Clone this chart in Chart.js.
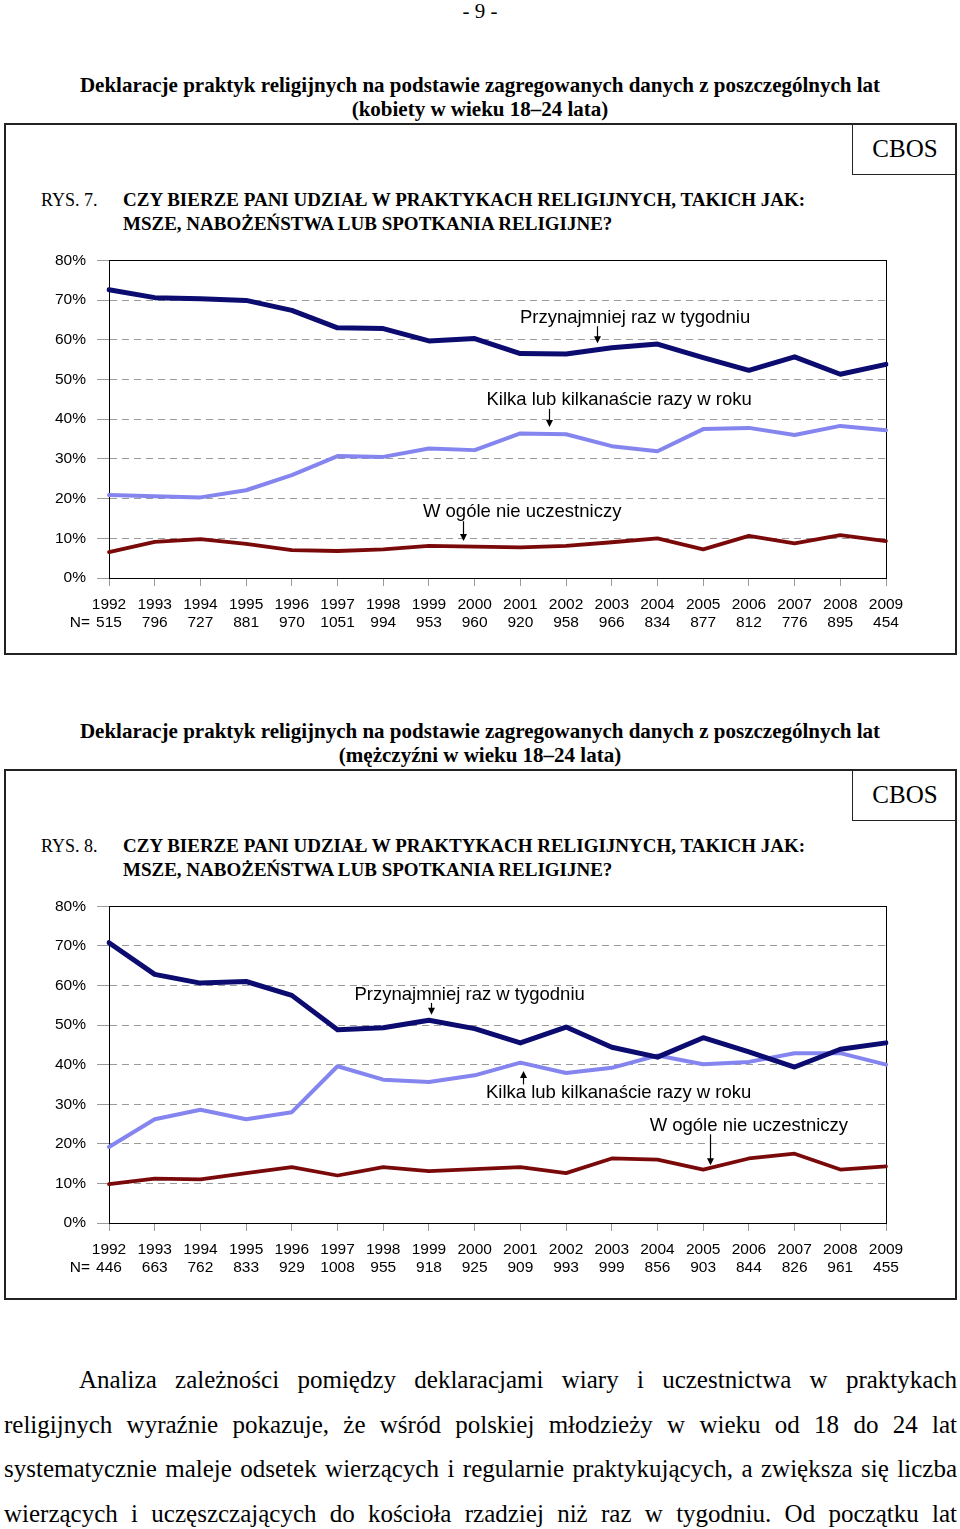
<!DOCTYPE html>
<html lang="pl">
<head>
<meta charset="utf-8">
<title>Deklaracje praktyk religijnych</title>
<script src="https://cdn.jsdelivr.net/npm/chart.js@4.4.1/dist/chart.umd.min.js"></script>
<style>
    html, body {
        margin: 0;
        padding: 0;
        background: #fff;
    }
    body {
        position: relative;
        width: 960px;
        height: 1529px;
        overflow: hidden;
        font-family: "Liberation Serif", "Times New Roman", serif;
        color: #000;
    }
    .abs {
        position: absolute;
    }
    .page-no {
        left: 0;
        top: 0;
        width: 960px;
        text-align: center;
        font-size: 21px;
        line-height: 22px;
    }
    .title {
        left: 0;
        width: 960px;
        text-align: center;
        font-weight: bold;
        font-size: 21px;
        line-height: 24px;
    }
    .box {
        left: 4px;
        width: 953px;
        border: 2px solid #222;
        box-sizing: border-box;
    }
    .cbos {
        left: 852px;
        width: 105px;
        height: 52px;
        border-left: 1.5px solid #222;
        border-bottom: 1.5px solid #222;
        box-sizing: border-box;
        text-align: center;
        font-size: 25px;
        line-height: 52px;
    }
    .rys {
        left: 41px;
        font-size: 18px;
        line-height: 24px;
    }
    .question {
        left: 123px;
        font-size: 19px;
        font-weight: bold;
        line-height: 24px;
        white-space: nowrap;
    }
    .para {
        left: 4px;
        top: 1358px;
        width: 953px;
        font-size: 25px;
        line-height: 44.5px;
    }
    .para span {
        display: block;
        text-align: justify;
        text-align-last: justify;
        white-space: nowrap;
    }
    .para span.first {
        padding-left: 75px;
    }
    canvas {
        position: absolute;
        left: 0;
    }
</style>
</head>
<body>

<div class="abs page-no">- 9 -</div>

<div class="abs title" style="top: 73px">Deklaracje praktyk religijnych na podstawie zagregowanych danych z poszczególnych lat<br>(kobiety w wieku 18–24 lata)</div>
<div class="abs box" style="top: 123px; height: 532px"></div>
<div class="abs cbos" style="top: 123px">CBOS</div>
<div class="abs rys" style="top: 188px">RYS. 7.</div>
<div class="abs question" style="top: 188px">CZY BIERZE PANI UDZIAŁ W PRAKTYKACH RELIGIJNYCH, TAKICH JAK:<br>MSZE, NABOŻEŃSTWA LUB SPOTKANIA RELIGIJNE?</div>
<canvas id="chart-women" width="960" height="410" style="top: 240px"></canvas>

<div class="abs title" style="top: 719px">Deklaracje praktyk religijnych na podstawie zagregowanych danych z poszczególnych lat<br>(mężczyźni w wieku 18–24 lata)</div>
<div class="abs box" style="top: 769px; height: 531px"></div>
<div class="abs cbos" style="top: 769px">CBOS</div>
<div class="abs rys" style="top: 834px">RYS. 8.</div>
<div class="abs question" style="top: 834px">CZY BIERZE PANI UDZIAŁ W PRAKTYKACH RELIGIJNYCH, TAKICH JAK:<br>MSZE, NABOŻEŃSTWA LUB SPOTKANIA RELIGIJNE?</div>
<canvas id="chart-men" width="960" height="410" style="top: 886px"></canvas>

<div class="abs para">
    <span class="first">Analiza zależności pomiędzy deklaracjami wiary i uczestnictwa w praktykach</span>
    <span>religijnych wyraźnie pokazuje, że wśród polskiej młodzieży w wieku od 18 do 24 lat</span>
    <span>systematycznie maleje odsetek wierzących i regularnie praktykujących, a zwiększa się liczba</span>
    <span>wierzących i uczęszczających do kościoła rzadziej niż raz w tygodniu. Od początku lat</span>
</div>

<script>
    // dane
    const years = ['1992', '1993', '1994', '1995', '1996', '1997', '1998', '1999', '2000',
        '2001', '2002', '2003', '2004', '2005', '2006', '2007', '2008', '2009']

    const nWomen = ['515', '796', '727', '881', '970', '1051', '994', '953', '960',
        '920', '958', '966', '834', '877', '812', '776', '895', '454']
    const nMen = ['446', '663', '762', '833', '929', '1008', '955', '918', '925',
        '909', '993', '999', '856', '903', '844', '826', '961', '455']

    const yTicks = [0, 10, 20, 30, 40, 50, 60, 70, 80]

    const womenWeekly = [72.6, 70.6, 70.3, 69.9, 67.4, 63.0, 62.8, 59.7, 60.3, 56.5, 56.4, 58.0, 58.9, 55.5, 52.3, 55.7, 51.3, 53.8]
    const womenFewTimes = [20.9, 20.6, 20.3, 22.1, 25.9, 30.7, 30.5, 32.6, 32.2, 36.4, 36.2, 33.2, 31.9, 37.5, 37.8, 36.0, 38.3, 37.2]
    const womenNever = [6.5, 9.1, 9.8, 8.6, 7.0, 6.8, 7.2, 8.1, 7.9, 7.7, 8.1, 9.0, 10.0, 7.2, 10.6, 8.7, 10.8, 9.3]

    const menWeekly = [70.8, 62.8, 60.6, 61.0, 57.5, 48.8, 49.3, 51.2, 49.1, 45.5, 49.5, 44.4, 41.9, 46.8, 43.2, 39.4, 43.9, 45.5]
    const menFewTimes = [19.2, 26.2, 28.6, 26.2, 28.0, 39.6, 36.2, 35.6, 37.3, 40.5, 37.9, 39.2, 42.3, 40.1, 40.7, 42.9, 42.9, 40.0]
    const menNever = [9.8, 11.2, 11.0, 12.6, 14.1, 12.0, 14.1, 13.1, 13.6, 14.1, 12.6, 16.3, 16.0, 13.5, 16.3, 17.5, 13.5, 14.3]

    const seriesNames = ['Przynajmniej raz w tygodniu', 'Kilka lub kilkanaście razy w roku', 'W ogóle nie uczestniczy']

    /****************************************************************************************************/

    Chart.defaults.font.family = '"Liberation Sans", Arial, sans-serif'
    Chart.defaults.font.size = 15.5
    Chart.defaults.color = '#000'

    // ramka, podpisy serii ze strzalkami i "N="
    const notes = {
        id: 'notes',
        beforeDatasetsDraw(chart) {
            let ctx = chart.ctx
            let a = chart.chartArea
            ctx.save()
            ctx.strokeStyle = '#000'
            ctx.lineWidth = 1
            ctx.strokeRect(Math.round(a.left) + 0.5, Math.round(a.top) + 0.5,
                Math.round(a.right - a.left), Math.round(a.bottom - a.top))
            ctx.restore()
        },
        afterDraw(chart, args, opts) {
            let ctx = chart.ctx
            let xs = chart.scales.x
            let ys = chart.scales.y
            ctx.save()
            ctx.fillStyle = '#000'
            ctx.strokeStyle = '#000'
            ctx.lineWidth = 1.2
            ctx.font = '18.5px "Liberation Sans", Arial, sans-serif'
            ctx.textAlign = 'center'
            ctx.textBaseline = 'middle'
            opts.items.forEach(n => {
                ctx.fillText(n.text, xs.getPixelForValue(n.x), ys.getPixelForValue(n.y))
                let ax = Math.round(xs.getPixelForValue(n.ax)) + 0.5
                let y1 = ys.getPixelForValue(n.y1)
                let y2 = ys.getPixelForValue(n.y2)
                let dir = y2 > y1 ? 1 : -1
                ctx.beginPath()
                ctx.moveTo(ax, y1)
                ctx.lineTo(ax, y2 - dir * 5)
                ctx.stroke()
                ctx.beginPath()
                ctx.moveTo(ax, y2)
                ctx.lineTo(ax - 3.5, y2 - dir * 7)
                ctx.lineTo(ax + 3.5, y2 - dir * 7)
                ctx.closePath()
                ctx.fill()
            })
            ctx.font = '15.5px "Liberation Sans", Arial, sans-serif'
            ctx.textAlign = 'right'
            ctx.fillText('N=', xs.getPixelForTick(0) - 19, chart.chartArea.bottom + 45)
            ctx.restore()
        }
    }

    function makeChart(id, nList, weekly, fewTimes, never, plotHeight, items) {
        let el = document.getElementById(id)

        return new Chart(el, {
            type: 'line',
            data: {
                labels: years.map((y, i) => [y, nList[i]]),
                datasets: [
                    {
                        label: seriesNames[0],
                        data: weekly,
                        borderColor: '#0b0b70',
                        borderWidth: 5
                    },
                    {
                        label: seriesNames[1],
                        data: fewTimes,
                        borderColor: '#8585ef',
                        borderWidth: 4
                    },
                    {
                        label: seriesNames[2],
                        data: never,
                        borderColor: '#7a0a0a',
                        borderWidth: 3.8
                    }
                ]
            },
            options: {
                responsive: false,
                devicePixelRatio: 1,
                animation: false,
                layout: {
                    padding: { top: 20, right: 74, left: 0, bottom: 0 }
                },
                elements: {
                    point: { radius: 0, hoverRadius: 0 },
                    line: {
                        tension: 0,
                        borderCapStyle: 'round',
                        borderJoinStyle: 'round'
                    }
                },
                scales: {
                    x: {
                        afterFit: s => { s.height = 410 - 20 - plotHeight },
                        ticks: {
                            padding: 10,
                            maxRotation: 0,
                            autoSkip: false,
                            font: { size: 15.5, lineHeight: 1.17 }
                        },
                        border: {
                            display: true,
                            color: '#000',
                            width: 1
                        },
                        grid: {
                            display: true,
                            drawOnChartArea: false,
                            color: '#999',
                            tickLength: 8
                        }
                    },
                    y: {
                        min: 0,
                        max: 80,
                        afterFit: s => { s.width = 109 },
                        afterBuildTicks: s => { s.ticks = yTicks.map(v => ({ value: v })) },
                        ticks: {
                            padding: 11,
                            callback: v => v + '%'
                        },
                        border: {
                            display: true,
                            color: '#000',
                            width: 1,
                            dash: [7, 5]
                        },
                        grid: {
                            display: true,
                            color: '#9a9a9a',
                            lineWidth: 1,
                            tickLength: 12
                        }
                    }
                },
                plugins: {
                    legend: { display: false },
                    tooltip: { enabled: false },
                    notes: { items: items }
                }
            },
            plugins: [notes]
        })
    }

    makeChart('chart-women', nWomen, womenWeekly, womenFewTimes, womenNever, 318, [
        { text: seriesNames[0], x: 11.51, y: 65.4, ax: 10.68, y1: 63.4, y2: 59.1 },
        { text: seriesNames[1], x: 11.16, y: 44.9, ax: 9.63, y1: 42.6, y2: 38.0 },
        { text: seriesNames[2], x: 9.04, y: 16.6, ax: 7.75, y1: 14.3, y2: 9.3 }
    ])

    makeChart('chart-men', nMen, menWeekly, menFewTimes, menNever, 317, [
        { text: seriesNames[0], x: 7.89, y: 57.5, ax: 7.05, y1: 55.6, y2: 52.6 },
        { text: seriesNames[1], x: 11.15, y: 32.9, ax: 9.06, y1: 35.0, y2: 38.4 },
        { text: seriesNames[2], x: 14.0, y: 24.5, ax: 13.14, y1: 22.4, y2: 14.6 }
    ])
</script>
</body>
</html>
